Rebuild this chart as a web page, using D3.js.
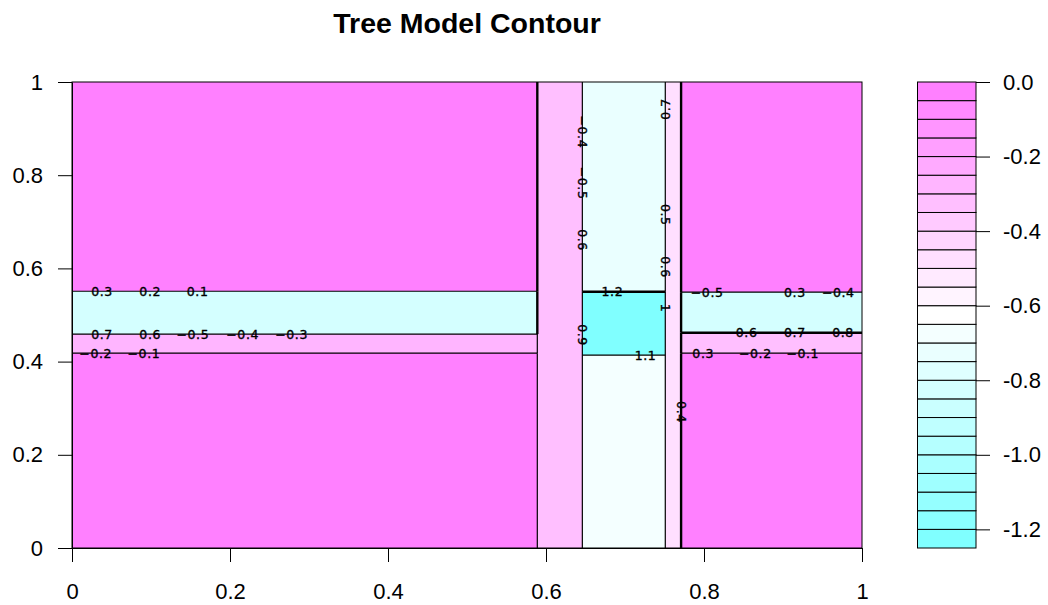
<!DOCTYPE html>
<html><head><meta charset="utf-8">
<script src="https://cdn.jsdelivr.net/npm/d3@7"></script>
<style>
body{margin:0;background:#fff}
text{font-family:"Liberation Sans",Arial,sans-serif}
.clab{font-family:"DejaVu Sans",sans-serif}
</style>
</head><body>
<svg id="chart" width="1048" height="605"></svg>
<script>
// ---- Tree model leaves (rectangular regions) ----
const leafIds   = ["L0a","L0b","L0c","L0d","L1","L2a","L2b","L2c","L3","L4a","L4b","L4c","L4d"];
const leafXmin  = [0,     0,     0,     0,     0.589, 0.646, 0.646, 0.646, 0.751, 0.771, 0.771, 0.771, 0.771];
const leafXmax  = [0.589, 0.589, 0.589, 0.589, 0.646, 0.751, 0.751, 0.751, 0.771, 1,     1,     1,     1];
const leafYmin  = [0,     0.418, 0.459, 0.551, 0,     0,     0.414, 0.550, 0,     0,     0.418, 0.462, 0.549];
const leafYmax  = [0.418, 0.459, 0.551, 1,     1,     0.414, 0.550, 1,     1,     0.418, 0.462, 0.549, 1];
const leafValue = [-0.01, -0.27, -0.82, -0.01, -0.33, -0.68, -1.22, -0.72, -0.48, -0.01, -0.33, -0.82, -0.01];

// contour levels (lines) and filled levels (key)
const contourLevels = [-1.2,-1.1,-1.0,-0.9,-0.8,-0.7,-0.6,-0.5,-0.4,-0.3,-0.2,-0.1];
const fillMin = -1.25, fillMax = 0, fillCount = 25;

// contour labels as they appear
const labelText = ["0.3","0.2","0.1","0.7","0.6","\u22120.5","\u22120.4","\u22120.3","\u22120.2","\u22120.1",
                   "\u22120.5","0.3","\u22120.4","0.6","0.7","0.8","0.3","\u22120.2","\u22120.1",
                   "1.2","1.1",
                   "\u22120.4","\u22120.5","0.6","0.9",
                   "0.7","0.5","0.6","1",
                   "0.4"];
const labelX = [0.038,0.099,0.159,0.038,0.099,0.153,0.216,0.278,0.030,0.091,
                0.804,0.915,0.970,0.854,0.915,0.976,0.799,0.865,0.925,
                0.684,0.726,
                0.646,0.646,0.646,0.646,
                0.751,0.751,0.751,0.751,
                0.771];
const labelY = [0.551,0.551,0.551,0.459,0.459,0.459,0.459,0.459,0.418,0.418,
                0.549,0.549,0.549,0.462,0.462,0.462,0.418,0.418,0.418,
                0.550,0.414,
                0.893,0.783,0.661,0.457,
                0.942,0.715,0.603,0.515,
                0.292];
const labelRot = [0,0,0,0,0,0,0,0,0,0, 0,0,0,0,0,0,0,0,0, 0,0, 90,90,90,90, -90,90,90,90, 90];

// edges drawn heavier (overlapping contour lines)
const heavyEdges = [["L0c","L1"],["L0d","L1"],["L3","L4a"],["L3","L4b"],["L3","L4c"],["L3","L4d"],["L2b","L2c"],["L4b","L4c"]];

// axes
const xTicks = [0,0.2,0.4,0.6,0.8,1];
const xTickLabels = ["0","0.2","0.4","0.6","0.8","1"];
const yTicks = [0,0.2,0.4,0.6,0.8,1];
const yTickLabels = ["0","0.2","0.4","0.6","0.8","1"];
const keyTicks = [0,-0.2,-0.4,-0.6,-0.8,-1.0,-1.2];
const keyTickLabels = ["0.0","-0.2","-0.4","-0.6","-0.8","-1.0","-1.2"];
const titleText = "Tree Model Contour";

// ---- colours: R cm.colors(n) ----
function cmColors(n){
  const even = n%2===0, k = Math.floor(n/2);
  const l1 = k+1-(even?1:0), l2 = n-k+(even?1:0);
  const cols = [];
  const hex = v => Math.round(255*v);
  const endS = even ? 0.5/k : 0;
  for(let i=0;i<l1;i++){
    const s = l1===1 ? 0.5 : 0.5 + (endS-0.5)*i/(l1-1);
    cols.push(d3.rgb(hex(1-s),255,255).formatHex());
  }
  for(let i=1;i<l2;i++){
    const s = 0.5*i/(l2-1);
    cols.push(d3.rgb(255,hex(1-s),255).formatHex());
  }
  return cols;
}
const palette = cmColors(fillCount);
const step = (fillMax-fillMin)/fillCount;
const bandIndex = v => Math.max(0, Math.min(fillCount-1, Math.floor((v-fillMin)/step + 1e-9)));

// ---- layout ----
const svg = d3.select("#chart");
const x = d3.scaleLinear().domain([0,1]).range([72,862]);
const y = d3.scaleLinear().domain([0,1]).range([548,82]);
const yKey = d3.scaleLinear().domain([fillMin,fillMax]).range([548,82]);
const keyX0 = 917.5, keyX1 = 976;

const leaves = leafIds.map((id,i)=>({id, x0:leafXmin[i], x1:leafXmax[i], y0:leafYmin[i], y1:leafYmax[i], v:leafValue[i]}));

// fills
svg.append("g").selectAll("rect").data(leaves).join("rect")
  .attr("x", d=>x(d.x0)).attr("y", d=>y(d.y1))
  .attr("width", d=>x(d.x1)-x(d.x0)).attr("height", d=>y(d.y0)-y(d.y1))
  .attr("fill", d=>palette[bandIndex(d.v)])
  .attr("shape-rendering","crispEdges");

// boundary contour lines
const eps = 1e-9, edges = [];
const isHeavy = (a,b) => heavyEdges.some(p => (p[0]===a&&p[1]===b)||(p[0]===b&&p[1]===a));
for(let i=0;i<leaves.length;i++) for(let j=i+1;j<leaves.length;j++){
  const a=leaves[i], b=leaves[j];
  const n = contourLevels.filter(L => (L-a.v)*(L-b.v) < 0).length;
  if(!n) continue;
  let sx = null;
  if(Math.abs(a.x1-b.x0)<eps) sx=a.x1; else if(Math.abs(b.x1-a.x0)<eps) sx=b.x1;
  if(sx!==null){
    const lo=Math.max(a.y0,b.y0), hi=Math.min(a.y1,b.y1);
    if(hi-lo>eps) edges.push({x1:sx,x2:sx,y1:lo,y2:hi,heavy:isHeavy(a.id,b.id)});
  }
  let sy = null;
  if(Math.abs(a.y1-b.y0)<eps) sy=a.y1; else if(Math.abs(b.y1-a.y0)<eps) sy=b.y1;
  if(sy!==null){
    const lo=Math.max(a.x0,b.x0), hi=Math.min(a.x1,b.x1);
    if(hi-lo>eps) edges.push({x1:lo,x2:hi,y1:sy,y2:sy,heavy:isHeavy(a.id,b.id)});
  }
}
svg.append("g").selectAll("line").data(edges).join("line")
  .attr("x1", d=>x(d.x1)).attr("x2", d=>x(d.x2))
  .attr("y1", d=>y(d.y1)).attr("y2", d=>y(d.y2))
  .attr("stroke","#000").attr("stroke-width", d=>d.heavy?2.4:1.2);

// contour labels
svg.append("g").selectAll("text").data(labelText.map((t,i)=>({t, x:labelX[i], y:labelY[i], r:labelRot[i]})))
  .join("text").attr("class","clab")
  .attr("transform", d=>`translate(${x(d.x)},${y(d.y)}) rotate(${d.r})`)
  .attr("text-anchor","middle").attr("dy","0.36em")
  .attr("font-size","12.5px").attr("letter-spacing","0.6px").attr("fill","#000")
  .attr("stroke","#000").attr("stroke-width",0.35)
  .text(d=>d.t);

// plot box
svg.append("rect").attr("x",x(0)).attr("y",y(1)).attr("width",x(1)-x(0)).attr("height",y(0)-y(1))
  .attr("fill","none").attr("stroke","#000").attr("stroke-width",1);

// axes
const ax = svg.append("g").attr("transform",`translate(0,${y(0)})`)
  .call(d3.axisBottom(x).tickValues(xTicks).tickFormat((d,i)=>xTickLabels[i]).tickSize(14).tickPadding(21).tickSizeOuter(0));
const ay = svg.append("g").attr("transform",`translate(${x(0)},0)`)
  .call(d3.axisLeft(y).tickValues(yTicks).tickFormat((d,i)=>yTickLabels[i]).tickSize(14).tickPadding(15).tickSizeOuter(0));
[ax,ay].forEach(g=>{
  g.select(".domain").attr("stroke","#000");
  g.selectAll("text").attr("font-size","22px").attr("font-family","'Liberation Sans',Arial,sans-serif").attr("fill","#000");
  g.selectAll(".tick line").attr("stroke","#000");
});

// colour key
const bands = d3.range(fillCount).map(i=>({lo:fillMin+i*step, hi:fillMin+(i+1)*step, c:palette[i]}));
svg.append("g").selectAll("rect").data(bands).join("rect")
  .attr("x",keyX0).attr("y",d=>yKey(d.hi)).attr("width",keyX1-keyX0).attr("height",d=>yKey(d.lo)-yKey(d.hi))
  .attr("fill",d=>d.c).attr("stroke","#000").attr("stroke-width",1);
const ak = svg.append("g").attr("transform",`translate(${keyX1},0)`)
  .call(d3.axisRight(yKey).tickValues(keyTicks).tickFormat((d,i)=>keyTickLabels[i]).tickSize(14).tickPadding(13).tickSizeOuter(0));
ak.select(".domain").remove();
ak.selectAll("text").attr("font-size","22px").attr("font-family","'Liberation Sans',Arial,sans-serif").attr("fill","#000");
ak.selectAll(".tick line").attr("stroke","#000");

// title
svg.append("text").attr("x",(x(0)+x(1))/2).attr("y",33).attr("text-anchor","middle")
  .attr("font-size","28.5px").attr("font-weight","bold").attr("fill","#000").text(titleText);
</script>
</body></html>
